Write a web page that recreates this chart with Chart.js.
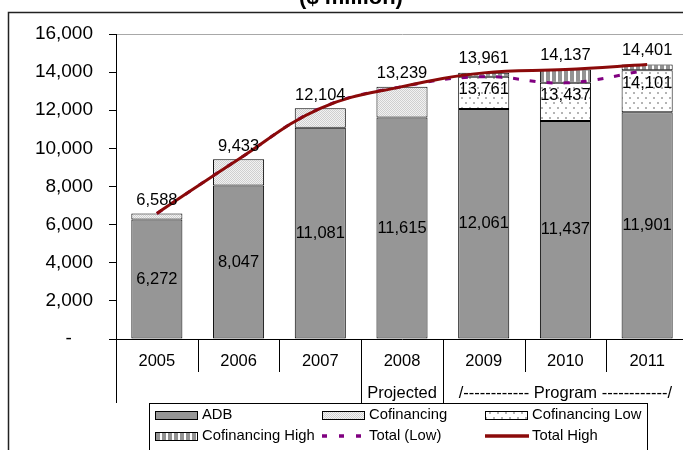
<!DOCTYPE html>
<html>
<head>
<meta charset="utf-8">
<script src="https://cdn.jsdelivr.net/npm/chart.js@4/dist/chart.umd.min.js"></script>
<style>
  html, body { margin: 0; padding: 0; background: #fff; overflow: hidden; }
  #wrap { width: 683px; height: 450px; overflow: hidden; position: relative; }
  canvas { position: absolute; left: 0; top: 0; }
</style>
</head>
<body>
<div id="wrap"><canvas id="chart" width="720" height="480"></canvas></div>
<script>
// ADB lending and cofinancing, $ million
const categories = ['2005', '2006', '2007', '2008', '2009', '2010', '2011'];
const adb = [6272, 8047, 11081, 11615, 12061, 11437, 11901];
const totalLow = [6588, 9433, 12104, 13239, 13761, 13437, 14101];
const totalHigh = [6588, 9433, 12104, 13239, 13961, 14137, 14401];
const programStart = 4; // index of the first program year
const phaseGroups = [
  { label: 'Projected', from: 3, to: 3 },
  { label: '/------------ Program ------------/', from: 4, to: 6 }
];
const titleText = '($ million)';

// stacked segments derived from the totals
const cofinancing = categories.map((c, i) => i < programStart ? totalLow[i] - adb[i] : null);
const cofinancingLow = categories.map((c, i) => i >= programStart ? totalLow[i] - adb[i] : null);
const cofinancingHigh = categories.map((c, i) => i >= programStart ? totalHigh[i] - totalLow[i] : null);

const FONT = '"Liberation Sans", Arial, sans-serif';

function makePattern(w, h, paint) {
  const c = document.createElement('canvas');
  c.width = w; c.height = h;
  const g = c.getContext('2d');
  paint(g, w, h);
  return document.createElement('canvas').getContext('2d').createPattern(c, 'repeat');
}
const finePattern = makePattern(2, 2, (g) => {
  g.fillStyle = '#f2f2f2'; g.fillRect(0, 0, 2, 2);
  g.fillStyle = '#cfcfcf'; g.fillRect(0, 0, 1, 1); g.fillRect(1, 1, 1, 1);
});
const dotPattern = makePattern(8, 10, (g) => {
  g.fillStyle = '#ffffff'; g.fillRect(0, 0, 8, 10);
  g.fillStyle = '#b4b4b4';
  g.fillRect(1, 2, 2, 2); g.fillRect(5, 7, 2, 2);
});
const stripePattern = makePattern(6, 1, (g) => {
  g.fillStyle = '#ffffff'; g.fillRect(0, 0, 6, 1);
  g.fillStyle = '#939393'; g.fillRect(0, 0, 4, 1);
});

const barCommon = {
  type: 'bar', stack: 'bars', order: 10,
  borderColor: '#000', borderWidth: 1, borderSkipped: false,
  barPercentage: 0.625, categoryPercentage: 1
};

const fmt = v => v.toLocaleString('en-US');

const valueLabels = {
  id: 'valueLabels',
  afterDatasetsDraw(chart) {
    const ctx = chart.ctx;
    const m = [0, 1, 2, 3].map(k => chart.getDatasetMeta(k));
    ctx.save();
    ctx.font = '16.5px ' + FONT;
    ctx.fillStyle = '#000';
    ctx.textAlign = 'center';
    ctx.textBaseline = 'middle';
    categories.forEach((c, i) => {
      const a = m[0].data[i];
      ctx.fillText(fmt(adb[i]), a.x, (a.y + a.base) / 2);
      if (i < programStart) {
        const b = m[1].data[i];
        ctx.fillText(fmt(totalLow[i]), b.x, b.y - 13);
      } else {
        const lo = m[2].data[i], hi = m[3].data[i];
        ctx.fillText(fmt(totalLow[i]), lo.x, lo.y + 13);
        ctx.fillText(fmt(totalHigh[i]), hi.x, hi.y - 14);
      }
    });
    ctx.restore();
  }
};

const frameAndAxis = {
  id: 'frameAndAxis',
  afterDraw(chart) {
    const ctx = chart.ctx;
    const x = chart.scales.x;
    const area = chart.chartArea;
    const step = x.width / categories.length;
    ctx.save();
    // outer frame
    ctx.strokeStyle = '#222';
    ctx.lineWidth = 1.5;
    ctx.strokeRect(8.5, 12.5, 800, 600);
    // title
    ctx.fillStyle = '#000';
    ctx.font = 'bold 22px ' + FONT;
    ctx.textAlign = 'center';
    ctx.textBaseline = 'alphabetic';
    ctx.fillText(titleText, 351, 4);
    // category separators
    ctx.strokeStyle = '#000';
    ctx.lineWidth = 1;
    const longLines = [0];
    phaseGroups.forEach(g => longLines.push(g.from));
    for (let i = 0; i <= categories.length; i++) {
      const px = Math.round(x.left + i * step) + 0.5;
      const bottom = longLines.includes(i) ? 403 : area.bottom + 33;
      ctx.beginPath();
      ctx.moveTo(px, area.bottom);
      ctx.lineTo(px, bottom);
      ctx.stroke();
    }
    // phase labels
    ctx.font = '16.5px ' + FONT;
    ctx.textBaseline = 'middle';
    phaseGroups.forEach(g => {
      const cx = (x.getPixelForValue(g.from) + x.getPixelForValue(g.to)) / 2;
      ctx.fillText(g.label, cx, 393);
    });
    // legend
    const lx = 149, ly = 403;
    ctx.fillStyle = '#fff';
    ctx.fillRect(lx, ly, 498, 80);
    ctx.strokeStyle = '#000';
    ctx.strokeRect(lx + 0.5, ly + 0.5, 498, 80);
    const cols = [155, 322, 485];
    const rows = [415, 436];
    ctx.font = '14.8px ' + FONT;
    ctx.textAlign = 'left';
    chart.data.datasets.forEach((ds, k) => {
      const sx = cols[k % 3], cy = rows[Math.floor(k / 3)];
      if (ds.type === 'bar') {
        ctx.fillStyle = ds.backgroundColor;
        ctx.fillRect(sx, cy - 4, 42, 8);
        ctx.strokeStyle = '#000';
        ctx.lineWidth = 1;
        ctx.strokeRect(sx + 0.5, cy - 3.5, 42, 8);
      } else {
        ctx.strokeStyle = ds.borderColor;
        ctx.lineWidth = 3.5;
        ctx.setLineDash(ds.borderDash && ds.borderDash.length ? [5, 12] : []);
        ctx.beginPath();
        ctx.moveTo(sx, cy);
        ctx.lineTo(sx + 44, cy);
        ctx.stroke();
        ctx.setLineDash([]);
      }
      ctx.fillStyle = '#000';
      ctx.fillText(ds.label, sx + 47, cy);
    });
    ctx.restore();
  }
};

new Chart(document.getElementById('chart'), {
  data: {
    labels: categories,
    datasets: [
      Object.assign({}, barCommon, { label: 'ADB', data: adb, backgroundColor: '#969696' }),
      Object.assign({}, barCommon, { label: 'Cofinancing', data: cofinancing, backgroundColor: finePattern }),
      Object.assign({}, barCommon, { label: 'Cofinancing Low', data: cofinancingLow, backgroundColor: dotPattern }),
      Object.assign({}, barCommon, { label: 'Cofinancing High', data: cofinancingHigh, backgroundColor: stripePattern }),
      {
        type: 'line', label: 'Total (Low)', data: totalLow, stack: 'low', order: 2,
        borderColor: '#800080', borderWidth: 3, borderDash: [6, 11],
        pointRadius: 0, tension: 0.4, fill: false
      },
      {
        type: 'line', label: 'Total High', data: totalHigh, stack: 'high', order: 1,
        borderColor: '#8b0a0a', borderWidth: 3,
        pointRadius: 0, tension: 0.4, fill: false
      }
    ]
  },
  options: {
    responsive: false,
    animation: false,
    devicePixelRatio: 1,
    layout: { padding: { top: 34, left: 0, right: 32, bottom: 0 } },
    plugins: { legend: { display: false }, title: { display: false }, tooltip: { enabled: false } },
    scales: {
      x: {
        stacked: true,
        afterFit: s => { s.height = 141; },
        grid: { display: false, drawTicks: false },
        border: { display: true, color: '#000', width: 1 },
        ticks: { color: '#000', font: { family: FONT, size: 16.5 }, padding: 13, maxRotation: 0 }
      },
      y: {
        stacked: true,
        min: 0, max: 16000,
        afterFit: s => { s.width = 116; },
        grid: {
          color: c => (c.tick && c.tick.value === 16000) ? '#a8a8a8' : 'rgba(0,0,0,0)',
          tickColor: '#000',
          tickLength: 7,
          lineWidth: 1
        },
        border: { display: true, color: '#000', width: 1 },
        ticks: {
          stepSize: 2000,
          color: '#000',
          padding: 16,
          font: { family: FONT, size: 19 },
          callback: v => v === 0 ? '-    ' : fmt(v)
        }
      }
    }
  },
  plugins: [valueLabels, frameAndAxis]
});
</script>
</body>
</html>
